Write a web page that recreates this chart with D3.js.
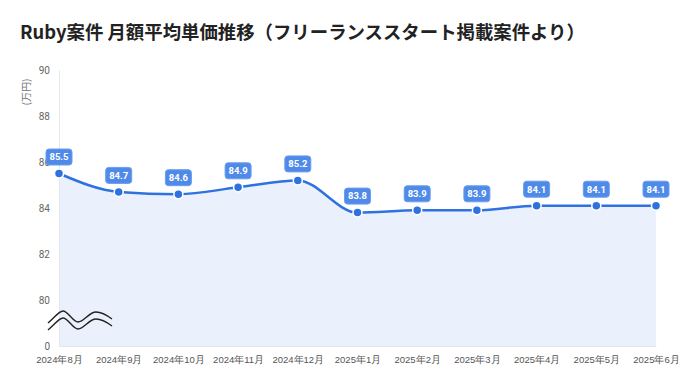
<!DOCTYPE html>
<html>
<head>
<meta charset="utf-8">
<script src="https://cdn.jsdelivr.net/npm/d3@7"></script>
<style>
  body { margin: 0; background: #fff; }
  svg { display: block; font-family: "Noto Sans CJK JP", "Noto Sans", sans-serif; }
</style>
</head>
<body>
<svg id="chart" width="700" height="389"></svg>
<script>
// chart data
var months = ["2024年8月", "2024年9月", "2024年10月", "2024年11月", "2024年12月",
  "2025年1月", "2025年2月", "2025年3月", "2025年4月", "2025年5月", "2025年6月"];
var prices = [85.5, 84.7, 84.6, 84.9, 85.2, 83.8, 83.9, 83.9, 84.1, 84.1, 84.1];
// the axis is broken: the bottom tick stands for 0
var yTicks = [78, 80, 82, 84, 86, 88, 90];
var yTickLabels = ["0", "80", "82", "84", "86", "88", "90"];

document.addEventListener("DOMContentLoaded", main);

function main() {
  var svg = d3.select("#chart"),
      margin = {top: 70, right: 44, bottom: 43, left: 59},
      width = +svg.attr("width") - margin.left - margin.right,
      height = +svg.attr("height") - margin.top - margin.bottom;

  var x = d3.scalePoint().domain(months).range([0, width]),
      y = d3.scaleLinear().domain([78, 90]).range([height, 0]);

  // title
  svg.append("text")
      .attr("x", 20)
      .attr("y", 39)
      .attr("fill", "#222")
      .attr("font-size", "18.4px")
      .attr("font-weight", "bold")
      .text("Ruby案件 月額平均単価推移（フリーランススタート掲載案件より）");

  var g = svg.append("g")
      .attr("transform", "translate(" + margin.left + "," + margin.top + ")");

  // area under the line
  var area = d3.area()
      .x(function(d, i) { return x(months[i]); })
      .y0(y(78))
      .y1(function(d) { return y(d); })
      .curve(d3.curveMonotoneX);

  g.append("path")
      .datum(prices)
      .attr("fill", "#eaf1fc")
      .attr("d", area);

  // axes
  var yAxis = g.append("g")
      .call(d3.axisLeft(y).tickValues(yTicks).tickSize(0).tickPadding(9)
        .tickFormat(function(d, i) { return yTickLabels[i]; }));
  yAxis.select(".domain").attr("stroke", "#e3e6ea");
  yAxis.selectAll("text")
      .attr("fill", "#666")
      .attr("font-size", "10px")
      .attr("font-family", "Roboto, 'Noto Sans', sans-serif");

  var xAxis = g.append("g")
      .attr("transform", "translate(0," + height + ")")
      .call(d3.axisBottom(x).tickSize(0).tickPadding(10));
  xAxis.select(".domain").attr("stroke", "#e3e6ea");
  xAxis.selectAll("text")
      .attr("fill", "#555")
      .attr("font-size", "9.5px");

  // unit label
  svg.append("text")
      .attr("transform", "translate(30,92) rotate(-90)")
      .attr("text-anchor", "middle")
      .attr("fill", "#777")
      .attr("font-size", "10px")
      .text("(万円)");

  // line
  var line = d3.line()
      .x(function(d, i) { return x(months[i]); })
      .y(function(d) { return y(d); })
      .curve(d3.curveMonotoneX);

  g.append("path")
      .datum(prices)
      .attr("fill", "none")
      .attr("stroke", "#2f72df")
      .attr("stroke-width", 2.5)
      .attr("d", line);

  // points
  g.selectAll(".dot")
      .data(prices)
      .enter()
      .append("circle")
        .attr("class", "dot")
        .attr("cx", function(d, i) { return x(months[i]); })
        .attr("cy", function(d) { return y(d); })
        .attr("r", 4.5)
        .attr("fill", "#2f72df")
        .attr("stroke", "#fff")
        .attr("stroke-width", 1.5);

  // value badges
  var badge = g.selectAll(".badge")
      .data(prices)
      .enter()
      .append("g")
        .attr("class", "badge")
        .attr("transform", function(d, i) {
          return "translate(" + x(months[i]) + "," + (y(d) - 16.5) + ")";
        });

  badge.append("rect")
      .attr("x", -13)
      .attr("y", -8)
      .attr("width", 26)
      .attr("height", 16)
      .attr("rx", 3)
      .attr("fill", "#4f8ae8")
      .attr("stroke", "#6b9ef0")
      .attr("stroke-width", 1);

  badge.append("text")
      .attr("text-anchor", "middle")
      .attr("dy", "0.35em")
      .attr("fill", "#fff")
      .attr("font-size", "9.5px")
      .attr("font-weight", "bold")
      .attr("font-family", "Roboto, 'Noto Sans', sans-serif")
      .text(function(d) { return d.toFixed(1); });

  // break marks on the axis
  var wave = "M48,323 C55,317 59,311 63,311 C68,311 73,322 78,322 C84,322 89,312 96,312 C102,312 108,316 112,319";
  svg.append("path")
      .attr("d", wave)
      .attr("fill", "none")
      .attr("stroke", "#222")
      .attr("stroke-width", 1.4);
  svg.append("path")
      .attr("d", wave)
      .attr("transform", "translate(0,7)")
      .attr("fill", "none")
      .attr("stroke", "#222")
      .attr("stroke-width", 1.4);
}
</script>
</body>
</html>
